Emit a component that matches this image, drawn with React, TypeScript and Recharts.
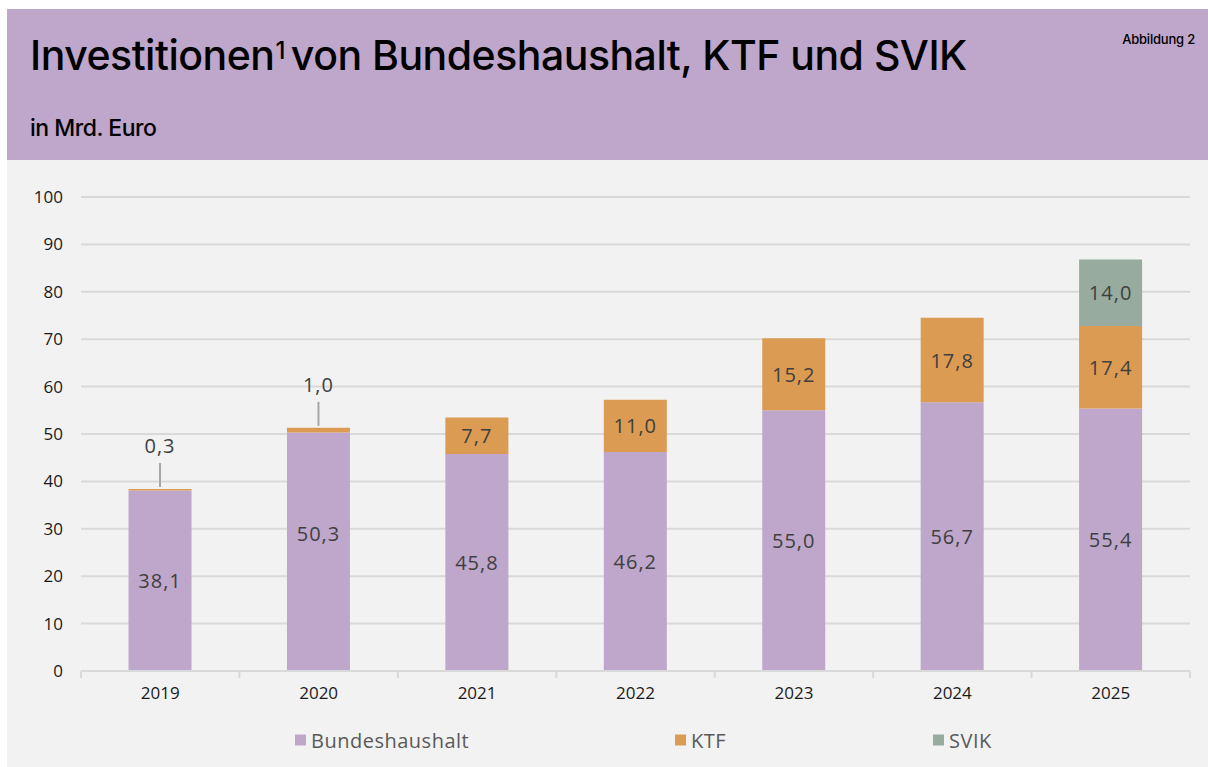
import React from "react";
import { BarChart, Bar, XAxis, YAxis, CartesianGrid, Legend, LabelList } from "recharts";

const years = ["2019", "2020", "2021", "2022", "2023", "2024", "2025"];
const bundeshaushalt = [38.1, 50.3, 45.8, 46.2, 55.0, 56.7, 55.4];
const ktf = [0.3, 1.0, 7.7, 11.0, 15.2, 17.8, 17.4];
const svik = [0, 0, 0, 0, 0, 0, 14.0];
const yTicks = [0, 10, 20, 30, 40, 50, 60, 70, 80, 90, 100];

const seriesNames = ["Bundeshaushalt", "KTF", "SVIK"];
const colors = ["#bfa6cb", "#dc9b52", "#98ab9f"];
// manual label nudge (style only) for the Bundeshaushalt labels
const bhLabelShift = [0, -18, 0, 0, 0, 0, 0];

const data = years.map((y, i) => ({
  year: y,
  bh: bundeshaushalt[i],
  ktf: ktf[i],
  svik: svik[i],
}));

const fmt = (v: number) => v.toFixed(1).replace(".", ",");
const LABEL_FONT = "'Open Sans', 'Noto Sans', sans-serif";

const CenterLabel = (shift?: number[]) => (props: any) => {
  const { x, y, width, height, value, index } = props;
  if (!value) return null;
  const dy = shift ? shift[index] || 0 : 0;
  return (
    <text
      x={x + width / 2}
      y={y + height / 2 + dy}
      textAnchor="middle"
      dominantBaseline="central"
      fontSize={20}
      letterSpacing={1}
      fontFamily={LABEL_FONT}
      fill="#404040"
    >
      {fmt(value)}
    </text>
  );
};

const KtfLabel = (props: any) => {
  const { x, y, width, height, value } = props;
  if (!value) return null;
  const cx = x + width / 2;
  if (value < 2) {
    return (
      <g>
        <line x1={cx} x2={cx} y1={y - 2} y2={y - 26} stroke="#a6a6a6" strokeWidth={2} />
        <text
          x={cx}
          y={y - 43}
          textAnchor="middle"
          dominantBaseline="central"
          fontSize={20}
          letterSpacing={1}
          fontFamily={LABEL_FONT}
          fill="#404040"
        >
          {fmt(value)}
        </text>
      </g>
    );
  }
  return (
    <text
      x={cx}
      y={y + height / 2}
      textAnchor="middle"
      dominantBaseline="central"
      fontSize={20}
      letterSpacing={1}
      fontFamily={LABEL_FONT}
      fill="#404040"
    >
      {fmt(value)}
    </text>
  );
};

const XTick = (props: any) => {
  const { x, y, payload, index, visibleTicksCount } = props;
  const off = payload && payload.offset ? payload.offset : 0;
  const isLast = index === visibleTicksCount - 1;
  return (
    <g>
      <line x1={x - off} x2={x - off} y1={y - 2} y2={y + 5} stroke="#d9d9d9" strokeWidth={2} />
      {isLast && (
        <line x1={x + off} x2={x + off} y1={y - 2} y2={y + 5} stroke="#d9d9d9" strokeWidth={2} />
      )}
      <text
        x={x}
        y={y + 19}
        textAnchor="middle"
        dominantBaseline="central"
        fontSize={17}
        fontFamily={LABEL_FONT}
        fill="#1a1a1a"
      >
        {payload.value}
      </text>
    </g>
  );
};

const legendLeft = [295, 675, 933];

const LegendContent = () => (
  <div style={{ position: "relative", width: 1208, height: 56 }}>
    {seriesNames.map((n, i) => (
      <div
        key={n}
        style={{
          position: "absolute",
          left: legendLeft[i],
          top: 39,
          transform: "translateY(-50%)",
          display: "flex",
          alignItems: "center",
          fontFamily: LABEL_FONT,
          fontSize: 20,
          letterSpacing: 0.5,
          color: "#595959",
        }}
      >
        <span
          style={{ display: "inline-block", width: 11, height: 11, background: colors[i], marginRight: 5 }}
        />
        <span>{n}</span>
      </div>
    ))}
  </div>
);

export default function App() {
  return (
    <div style={{ position: "relative", width: 1208, height: 767, background: "#ffffff", overflow: "hidden" }}>
      <style>{`body{margin:0}`}</style>
      <div
        style={{
          position: "absolute",
          left: 7,
          top: 9,
          width: 1201,
          height: 151,
          background: "#bfa6cb",
        }}
      />
      <div
        style={{
          position: "absolute",
          left: 30,
          top: 30,
          fontFamily: "Inter, 'Noto Sans', sans-serif",
          fontWeight: 500,
          fontSize: 41,
          letterSpacing: -0.5,
          color: "#000",
          whiteSpace: "nowrap",
          lineHeight: "50px",
        }}
      >
        Investitionen
        <sup style={{ fontSize: 24, verticalAlign: "top", position: "relative", top: -4, marginLeft: 1, marginRight: 6 }}>1</sup>
        von Bundeshaushalt, KTF und SVIK
      </div>
      <div
        style={{
          position: "absolute",
          right: 13,
          top: 31,
          fontFamily: "Inter, 'Noto Sans', sans-serif",
          fontWeight: 500,
          fontSize: 13,
          letterSpacing: -0.2,
          color: "#000",
        }}
      >
        Abbildung 2
      </div>
      <div
        style={{
          position: "absolute",
          left: 30,
          top: 113,
          fontFamily: "Inter, 'Noto Sans', sans-serif",
          fontWeight: 500,
          fontSize: 23,
          letterSpacing: -0.5,
          color: "#000",
          lineHeight: "30px",
        }}
      >
        in Mrd. Euro
      </div>
      <div
        style={{
          position: "absolute",
          left: 7,
          top: 160,
          width: 1201,
          height: 607,
          background: "#f2f2f2",
        }}
      />
      <div style={{ position: "absolute", left: 0, top: 160 }}>
        <BarChart
          width={1208}
          height={607}
          data={data}
          margin={{ top: 37, right: 18, left: 21, bottom: 10 }}
          barCategoryGap="30%"
        >
          <CartesianGrid vertical={false} stroke="#d9d9d9" strokeWidth={2} />
          <XAxis
            dataKey="year"
            height={30}
            axisLine={{ stroke: "#d9d9d9", strokeWidth: 2 }}
            tickLine={false}
            tickSize={0}
            interval={0}
            tick={<XTick />}
          />
          <YAxis
            width={60}
            domain={[0, 100]}
            ticks={yTicks}
            axisLine={false}
            tickLine={false}
            tickSize={0}
            tickMargin={18}
            tick={{ fontSize: 17, fontFamily: LABEL_FONT, fill: "#1a1a1a" }}
          />
          <Legend
            verticalAlign="bottom"
            height={56}
            wrapperStyle={{ left: 0, width: 1208, height: 56, bottom: 10 }}
            content={<LegendContent />}
          />
          <Bar dataKey="bh" name={seriesNames[0]} stackId="a" fill={colors[0]} isAnimationActive={false}>
            <LabelList dataKey="bh" content={CenterLabel(bhLabelShift)} />
          </Bar>
          <Bar dataKey="ktf" name={seriesNames[1]} stackId="a" fill={colors[1]} isAnimationActive={false}>
            <LabelList dataKey="ktf" content={KtfLabel} />
          </Bar>
          <Bar dataKey="svik" name={seriesNames[2]} stackId="a" fill={colors[2]} isAnimationActive={false}>
            <LabelList dataKey="svik" content={CenterLabel()} />
          </Bar>
        </BarChart>
      </div>
    </div>
  );
}
